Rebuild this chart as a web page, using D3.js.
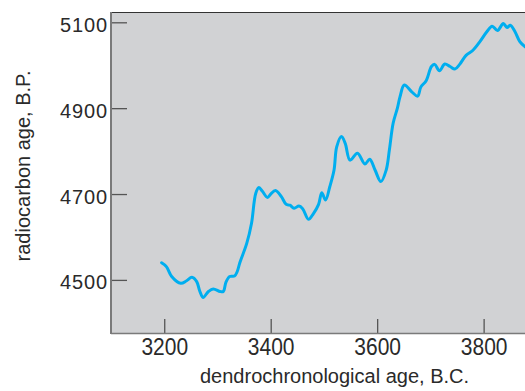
<!DOCTYPE html>
<html>
<head>
<meta charset="utf-8">
<script src="https://cdn.jsdelivr.net/npm/d3@7/dist/d3.min.js"></script>
<style>
  html, body { margin: 0; padding: 0; background: #ffffff; }
  svg { display: block; }
  text { font-family: "Liberation Sans", Arial, sans-serif; fill: #2a2a2a; }
</style>
</head>
<body>
<svg id="chart" width="525" height="391"></svg>
<script>
// Calibration curve: dendrochronological age (B.C.) vs radiocarbon age (B.P.)
const dendroYears = [
  3195, 3204, 3214, 3231, 3242, 3252, 3261, 3267, 3273, 3283,
  3292, 3305, 3311, 3316, 3323, 3332, 3337, 3342, 3355, 3364,
  3372, 3378, 3384, 3394, 3400, 3409, 3420, 3429, 3436, 3444,
  3453, 3460, 3471, 3480, 3490, 3496, 3503, 3511, 3519, 3524,
  3533, 3540, 3549, 3563, 3577, 3586, 3596, 3607, 3617, 3623,
  3630, 3638, 3643, 3651, 3665, 3676, 3682, 3692, 3702, 3708,
  3717, 3727, 3737, 3746, 3755, 3767, 3780, 3793, 3806, 3816,
  3826, 3837, 3844, 3850, 3859, 3868, 3877, 3886
];
const radiocarbonAges = [
  4540, 4531, 4508, 4492, 4498, 4506, 4496, 4473, 4459, 4473,
  4479, 4473, 4473, 4495, 4508, 4509, 4519, 4540, 4585, 4632,
  4702, 4715, 4707, 4692, 4700, 4708, 4694, 4676, 4674, 4667,
  4672, 4666, 4641, 4654, 4676, 4703, 4686, 4717, 4756, 4810,
  4834, 4818, 4779, 4795, 4770, 4781, 4756, 4729, 4756, 4803,
  4865, 4900, 4927, 4954, 4938, 4928, 4949, 4964, 4997, 5002,
  4987, 5003, 4997, 4991, 5002, 5023, 5035, 5055, 5078, 5091,
  5081, 5097, 5088, 5093, 5078, 5055, 5044, 5036
];
const xTickValues = [3200, 3400, 3600, 3800];
const yTickValues = [4500, 4700, 4900, 5100];
const xTitle = "dendrochronological age, B.C.";
const yTitle = "radiocarbon age, B.P.";

const svg = d3.select("#chart");
const plotLeft = 111, plotTop = 12, plotRight = 531, plotBottom = 334;

const x = d3.scaleLinear().domain([3100, 3889]).range([plotLeft, plotRight]);
const y = d3.scaleLinear().domain([4374, 5124]).range([plotBottom, plotTop]);
const plainInt = d3.format("d");

// plot background
svg.append("rect")
  .attr("x", plotLeft).attr("y", plotTop)
  .attr("width", plotRight - plotLeft).attr("height", plotBottom - plotTop)
  .attr("fill", "#d1d2d4");

svg.append("clipPath").attr("id", "plot-clip")
  .append("rect")
  .attr("x", plotLeft).attr("y", plotTop)
  .attr("width", plotRight - plotLeft).attr("height", plotBottom - plotTop);

// frame: dark top edge
svg.append("line")
  .attr("x1", plotLeft).attr("x2", plotRight).attr("y1", plotTop + 0.5).attr("y2", plotTop + 0.5)
  .attr("stroke", "#333").attr("stroke-width", 1.2);

// x axis with inward ticks
const xAxis = svg.append("g")
  .attr("transform", `translate(0,${plotBottom})`)
  .call(d3.axisBottom(x).tickValues(xTickValues).tickFormat(plainInt)
    .tickSizeInner(-15).tickSizeOuter(0).tickPadding(0));
xAxis.select(".domain").remove();
xAxis.selectAll(".tick line").attr("stroke", "#555").attr("stroke-width", 1.3);
xAxis.selectAll(".tick text")
  .attr("y", 0).attr("dy", 0)
  .attr("transform", "translate(0,21) scale(1,1.12)")
  .attr("font-size", 21)
  .style("font-family", "Liberation Sans, Arial, sans-serif")
  .attr("fill", "#2a2a2a");

// y axis with inward ticks
const yAxis = svg.append("g")
  .attr("transform", `translate(${plotLeft},0)`)
  .call(d3.axisLeft(y).tickValues(yTickValues).tickFormat(plainInt)
    .tickSizeInner(-16).tickSizeOuter(0).tickPadding(3));
yAxis.select(".domain").remove();
yAxis.selectAll(".tick line").attr("stroke", "#555").attr("stroke-width", 1.3);
yAxis.selectAll(".tick text")
  .attr("x", -3).attr("dy", "0.45em")
  .attr("font-size", 20)
  .attr("letter-spacing", 0.9)
  .style("font-family", "Liberation Sans, Arial, sans-serif")
  .attr("fill", "#2a2a2a");

// grey left and bottom axis lines
svg.append("line")
  .attr("x1", plotLeft).attr("x2", plotLeft).attr("y1", plotTop).attr("y2", plotBottom)
  .attr("stroke", "#7a7a7a").attr("stroke-width", 2);
svg.append("line")
  .attr("x1", plotLeft).attr("x2", plotRight).attr("y1", plotBottom - 0.5).attr("y2", plotBottom - 0.5)
  .attr("stroke", "#7a7a7a").attr("stroke-width", 1.5);

// calibration curve
const points = dendroYears.map((d, i) => [d, radiocarbonAges[i]]);
const line = d3.line()
  .x(d => x(d[0]))
  .y(d => y(d[1]))
  .curve(d3.curveCatmullRom.alpha(0.5));

svg.append("path")
  .datum(points)
  .attr("clip-path", "url(#plot-clip)")
  .attr("d", line)
  .attr("fill", "none")
  .attr("stroke", "#00aeef")
  .attr("stroke-width", 3)
  .attr("stroke-linejoin", "round")
  .attr("stroke-linecap", "round");

// axis titles
svg.append("text")
  .attr("x", 200).attr("y", 383)
  .attr("font-size", 20)
  .text(xTitle);

svg.append("text")
  .attr("transform", "translate(30,166) rotate(-90)")
  .attr("text-anchor", "middle")
  .attr("font-size", 20)
  .text(yTitle);
</script>
</body>
</html>
